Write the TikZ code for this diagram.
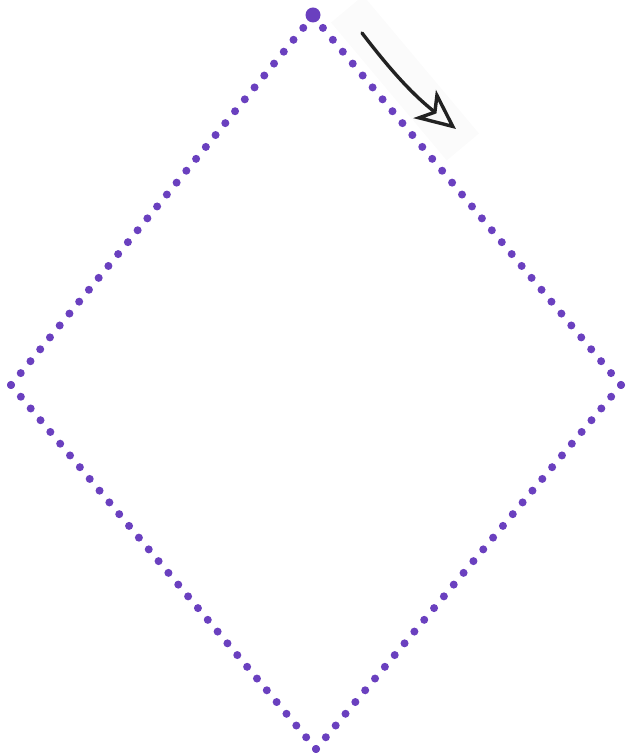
\documentclass[tikz,border=0pt]{standalone}
\usepackage{xcolor}
\usetikzlibrary{arrows.meta, calc}
\definecolor{grape}{HTML}{6A40BF}
\definecolor{ink}{HTML}{222222}
\definecolor{haze}{HTML}{FBFBFB}

\begin{document}
\begin{tikzpicture}[x=1pt, y=1pt,
  dot/.style={fill=grape},
  glow/.style={rectangle, fill=haze, minimum width=180, minimum height=42, inner sep=0pt},
  turn/.style={-{Stealth[open, length=40, width=36, inset=11]}, line width=3.4, ink, line cap=round}
]
  \useasboundingbox (0,0) rectangle (626,756);

  \coordinate (top) at (313,740);
  \coordinate (right) at (621,371);
  \coordinate (bottom) at (316,7);
  \coordinate (left) at (11,371);

  % dotted rhombus
  \foreach \a/\b in {top/right, right/bottom, bottom/left, left/top}
    \foreach \i in {0,...,31}
      \fill[dot] ($(\a)!\i/31!(\b)$) circle (4);
  \fill[dot] (313,741) circle (7.5);

  % direction hint
  \node[glow, rotate=-50] (halo) at (405,678) {};
  \coordinate (start) at (362,723);
  \coordinate (tip) at (456,627);
  \draw[turn] (start) to[bend right=7] (tip);
\end{tikzpicture}
\end{document}
